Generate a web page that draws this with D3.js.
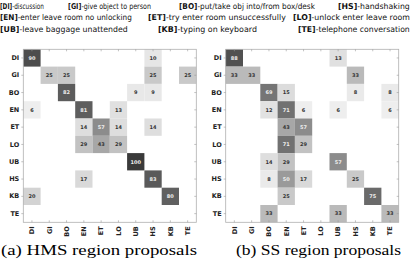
<!DOCTYPE html>
<html>
<head>
<meta charset="utf-8">
<style>
  body { margin: 0; background: #fff; }
  svg { display: block; }
</style>
</head>
<body>
<svg id="chart" width="411" height="261"></svg>
<script src="https://d3js.org/d3.v7.min.js"></script>
<script>
    // action classes, same order on both axes
    let classes = ['DI', 'GI', 'BO', 'EN', 'ET', 'LO', 'UB', 'HS', 'KB', 'TE']

    // legend lines: code, description
    let legendCodes = [['DI', 'GI', 'BO', 'HS'], ['EN', 'ET', 'LO'], ['UB', 'KB', 'TE']]
    let legendTexts = [
        ['discussion', 'give object to person', 'put/take obj into/from box/desk', 'handshaking'],
        ['enter leave room no unlocking', 'try enter room unsuccessfully', 'unlock enter leave room'],
        ['leave baggage unattended', 'typing on keyboard', 'telephone conversation']
    ]
    let legendX = [[0, 68, 179, 338], [0, 148, 293], [0, 158, 298]]
    let legendW = [[44, 83, 136, 72], [132, 138, 117], [128, 99, 112]]

    // confusion matrices (rows = true class, cols = predicted), in percent
    let hmsValues = [
        [90, 0, 0, 0, 0, 0, 0, 10, 0, 0],
        [0, 25, 25, 0, 0, 0, 0, 25, 0, 25],
        [0, 0, 82, 0, 0, 0, 9, 9, 0, 0],
        [6, 0, 0, 81, 0, 13, 0, 0, 0, 0],
        [0, 0, 0, 14, 57, 14, 0, 14, 0, 0],
        [0, 0, 0, 29, 43, 29, 0, 0, 0, 0],
        [0, 0, 0, 0, 0, 0, 100, 0, 0, 0],
        [0, 0, 0, 17, 0, 0, 0, 83, 0, 0],
        [20, 0, 0, 0, 0, 0, 0, 0, 80, 0],
        [0, 0, 0, 0, 0, 0, 0, 0, 0, 0]
    ]
    let ssValues = [
        [88, 0, 0, 0, 0, 0, 13, 0, 0, 0],
        [33, 33, 0, 0, 0, 0, 0, 33, 0, 0],
        [0, 0, 69, 15, 0, 0, 0, 8, 0, 8],
        [0, 0, 12, 71, 6, 0, 6, 0, 0, 6],
        [0, 0, 0, 43, 57, 0, 0, 0, 0, 0],
        [0, 0, 0, 71, 29, 0, 0, 0, 0, 0],
        [0, 0, 14, 29, 0, 0, 57, 0, 0, 0],
        [0, 0, 8, 50, 17, 0, 0, 25, 0, 0],
        [0, 0, 0, 25, 0, 0, 0, 0, 75, 0],
        [0, 0, 33, 0, 0, 0, 33, 0, 0, 33]
    ]

    let panels = [
        {values: hmsValues, left: 23.3, title: '(a) HMS region proposals', titleX: 1, titleW: 196},
        {values: ssValues, left: 225.7, title: '(b) SS region proposals', titleX: 236, titleW: 165}
    ]

    let svg = d3.select('#chart')
    let plotTop = 49.3
    let size = 173

    let color = d3.scaleLinear().domain([0, 100]).range(['#f9f9f9', '#3a3a3a'])

    // legend at the top, each entry squeezed to the width it has in the figure
    legendCodes.forEach(function (codes, li) {
        codes.forEach(function (code, i) {
            let g = svg.append('g')
            let t = g.append('text')
                .attr('font-family', 'DejaVu Sans, sans-serif')
                .attr('font-size', 8)
                .attr('fill', '#111')
            t.append('tspan').attr('font-weight', 'bold').text('[' + code + ']')
            t.append('tspan').text('-' + legendTexts[li][i])
            let w = t.node().getComputedTextLength()
            let sx = legendW[li][i] / w
            g.attr('transform', 'translate(' + legendX[li][i] + ',' + (9 + li * 11.3) + ') scale(' + sx + ',1)')
        })
    })

    panels.forEach(function (p) {
        let x = d3.scaleBand().domain(classes).range([p.left, p.left + size])
        let y = d3.scaleBand().domain(classes).range([plotTop, plotTop + size])
        let g = svg.append('g')

        let cells = []
        p.values.forEach(function (row, ri) {
            row.forEach(function (v, ci) {
                if (v > 0) cells.push({r: classes[ri], c: classes[ci], v: v})
            })
        })

        g.selectAll('rect.cell').data(cells).join('rect')
            .attr('class', 'cell')
            .attr('x', d => x(d.c))
            .attr('y', d => y(d.r))
            .attr('width', x.bandwidth())
            .attr('height', y.bandwidth())
            .attr('fill', d => color(d.v))

        g.selectAll('text.val').data(cells).join('text')
            .attr('class', 'val')
            .attr('x', d => x(d.c) + x.bandwidth() / 2)
            .attr('y', d => y(d.r) + y.bandwidth() / 2 + 1.8)
            .attr('text-anchor', 'middle')
            .attr('font-family', 'DejaVu Sans, sans-serif')
            .attr('font-weight', 'bold')
            .attr('font-size', 5)
            .attr('fill', d => d.v >= 50 ? '#eee' : '#333')
            .text(d => d.v)

        // frame
        g.append('rect')
            .attr('x', p.left).attr('y', plotTop)
            .attr('width', size).attr('height', size)
            .attr('fill', 'none')
            .attr('stroke', '#b0b0b0')
            .attr('stroke-width', 0.8)

        // axes
        let yAxis = g.append('g')
            .attr('transform', 'translate(' + p.left + ',0)')
            .call(d3.axisLeft(y).tickSize(2).tickPadding(2))
        let xAxis = g.append('g')
            .attr('transform', 'translate(0,' + (plotTop + size) + ')')
            .call(d3.axisBottom(x).tickSize(-2).tickPadding(4))
        g.append('g')
            .attr('transform', 'translate(0,' + plotTop + ')')
            .call(d3.axisTop(x).tickSize(-2).tickFormat(''))
        g.append('g')
            .attr('transform', 'translate(' + (p.left + size) + ',0)')
            .call(d3.axisRight(y).tickSize(-2).tickFormat(''))

        g.selectAll('.domain').remove()
        g.selectAll('.tick line').attr('stroke', '#999').attr('stroke-width', 0.6)

        yAxis.selectAll('text')
            .attr('font-family', 'DejaVu Sans, sans-serif')
            .attr('font-weight', 'bold')
            .attr('font-size', 6.5)
            .attr('fill', '#222')
        xAxis.selectAll('text')
            .attr('font-family', 'DejaVu Sans, sans-serif')
            .attr('font-weight', 'bold')
            .attr('font-size', 6.5)
            .attr('fill', '#222')
            .attr('transform', 'rotate(-90)')
            .attr('text-anchor', 'end')
            .attr('dy', '0.35em')
            .attr('x', -4)
            .attr('y', 0)

        // subfigure caption
        svg.append('text')
            .attr('x', p.titleX)
            .attr('y', 255)
            .attr('font-family', 'Liberation Serif, DejaVu Serif, serif')
            .attr('font-size', 15.5)
            .attr('fill', '#000')
            .attr('textLength', p.titleW)
            .attr('lengthAdjust', 'spacingAndGlyphs')
            .text(p.title)
    })
</script>
</body>
</html>
